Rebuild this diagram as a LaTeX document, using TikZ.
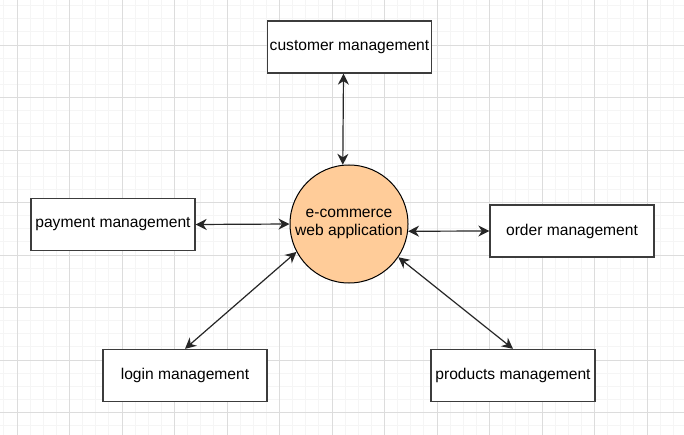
\documentclass[tikz,border=0pt]{standalone}
\usepackage{fontspec}
\setmainfont{Liberation Sans}
\usepackage{tikz}
\usetikzlibrary{arrows.meta, positioning, shapes.geometric, calc}
\definecolor{appfill}{HTML}{FFCC99}
\definecolor{gridminor}{HTML}{F5F5F5}
\definecolor{gridmajor}{HTML}{DCDCDC}
\definecolor{boxline}{HTML}{3C3C3C}

\begin{document}
\begin{tikzpicture}[x=1pt, y=-1pt,
    module/.style={draw=boxline, line width=1.3pt, fill=white, minimum width=164pt,
        minimum height=52pt, inner sep=0pt, font=\fontsize{15.6}{18}\selectfont},
    webapp/.style={circle, draw=black, line width=1pt, fill=appfill, minimum size=118pt,
        inner sep=0pt, align=center, font=\fontsize{15.6}{18}\selectfont},
    link/.style={{Stealth[length=11pt,width=11pt,inset=3.5pt]}-{Stealth[length=11pt,width=11pt,inset=3.5pt]},
        line width=1.2pt, black!85}]
    % Background and grid
    \fill[white] (0,0) rectangle (684,435);
    \useasboundingbox (0,0) rectangle (684,435);
    \foreach \i in {-1,...,50} {
        \draw[gridminor, line width=0.8pt] ({17+13.125*\i},0) -- ({17+13.125*\i},435);
    }
    \foreach \j in {-3,...,29} {
        \draw[gridminor, line width=0.8pt] (0,{45+13.125*\j}) -- (684,{45+13.125*\j});
    }
    \foreach \i in {0,...,12} {
        \draw[gridmajor, line width=0.8pt] ({17+52.5*\i},0) -- ({17+52.5*\i},435);
    }
    \foreach \j in {0,...,7} {
        \draw[gridmajor, line width=0.8pt] (0,{45+52.5*\j}) -- (684,{45+52.5*\j});
    }

    % Central application
    \node[webapp] (app) at (349,224) {e-commerce\\web application};

    % Modules
    \node[module] (customer) at (349.5,47) {customer management};
    \node[module] (payment) at (113,224.5) {payment management};
    \node[module] (order) at (572,231) {order management};
    \node[module] (login) at (185,375.5) {login management};
    \node[module] (products) at (513,375.5) {products management};

    % Connectors
    \draw[link] ([xshift=-6pt]customer.south) -- (app.96);
    \draw[link] (payment.east) -- (app.west);
    \draw[link] (app.-7) -- (order.west);
    \draw[link] (login.north) -- (app.208);
    \draw[link] (app.-34) -- (products.north);
\end{tikzpicture}
\end{document}
